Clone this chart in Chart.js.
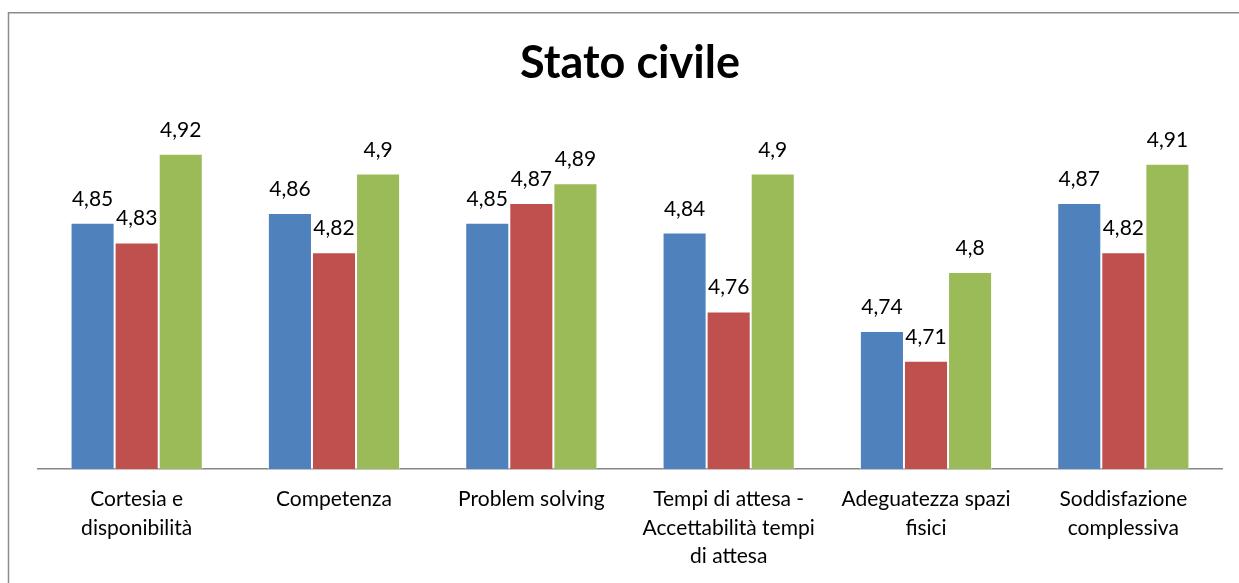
<!DOCTYPE html>
<html lang="it">
<head>
<meta charset="utf-8">
<title>Stato civile</title>
<script src="https://cdn.jsdelivr.net/npm/chart.js@4/dist/chart.umd.min.js"></script>
<style>
  html, body { margin: 0; padding: 0; background: #ffffff; }
  #wrap { width: 1239px; height: 583px; }
</style>
</head>
<body>
<div id="wrap"><canvas id="chart" width="1239" height="583"></canvas></div>
<script>
// Categorie valutate
const categories = [
  ['Cortesia e', 'disponibilità'],
  ['Competenza'],
  ['Problem solving'],
  ['Tempi di attesa -', 'Accettabilità tempi', 'di attesa'],
  ['Adeguatezza spazi', 'fisici'],
  ['Soddisfazione', 'complessiva']
];

// Punteggi medi per gruppo di stato civile
const serieBlu = [4.85, 4.86, 4.85, 4.84, 4.74, 4.87];
const serieRossa = [4.83, 4.82, 4.87, 4.76, 4.71, 4.82];
const serieVerde = [4.92, 4.90, 4.89, 4.90, 4.80, 4.91];

const titolo = 'Stato civile';
const FONT = 'Lato, "Open Sans", sans-serif';

// Cornice grigia del grafico
const framePlugin = {
  id: 'frame',
  beforeDraw(chart) {
    const ctx = chart.ctx;
    ctx.save();
    ctx.fillStyle = '#ffffff';
    ctx.fillRect(0, 0, chart.width, chart.height);
    ctx.strokeStyle = '#8c8c8c';
    ctx.lineWidth = 1.5;
    ctx.strokeRect(8.5, 12.75, chart.width + 20, chart.height + 20);
    ctx.restore();
  }
};

// Titolo centrato sopra l'area del grafico
const titlePlugin = {
  id: 'titolo',
  afterDraw(chart) {
    const ctx = chart.ctx;
    const area = chart.chartArea;
    ctx.save();
    ctx.font = 'bold 45px ' + FONT;
    ctx.fillStyle = '#000000';
    ctx.textAlign = 'center';
    ctx.textBaseline = 'alphabetic';
    ctx.fillText(titolo, (area.left + area.right) / 2, 78);
    ctx.restore();
  }
};

// Etichette con il valore sopra ogni barra (virgola decimale)
const valueLabels = {
  id: 'valori',
  afterDatasetsDraw(chart) {
    const ctx = chart.ctx;
    ctx.save();
    ctx.font = '21px ' + FONT;
    ctx.fillStyle = '#000000';
    ctx.textAlign = 'center';
    ctx.textBaseline = 'alphabetic';
    chart.data.datasets.forEach((ds, i) => {
      const meta = chart.getDatasetMeta(i);
      meta.data.forEach((bar, j) => {
        const txt = String(ds.data[j]).replace('.', ',');
        ctx.fillText(txt, bar.x, bar.y - 17);
      });
    });
    ctx.restore();
  }
};

new Chart(document.getElementById('chart'), {
  type: 'bar',
  data: {
    labels: categories,
    datasets: [
      { label: 'Serie 1', data: serieBlu, backgroundColor: '#4f81bd' },
      { label: 'Serie 2', data: serieRossa, backgroundColor: '#c0504d' },
      { label: 'Serie 3', data: serieVerde, backgroundColor: '#9bbb59' }
    ].map(d => Object.assign(d, {
      borderColor: 'rgba(255,255,255,0.55)',
      borderWidth: 1,
      barPercentage: 1.0,
      categoryPercentage: 0.67
    }))
  },
  options: {
    responsive: false,
    animation: false,
    devicePixelRatio: 1,
    layout: { padding: { left: 38, right: 17, top: 75, bottom: 0 } },
    plugins: {
      legend: { display: false },
      title: { display: false },
      tooltip: { enabled: false }
    },
    scales: {
      x: {
        grid: { display: false, drawTicks: false },
        border: { display: true, color: '#868686', width: 1.5 },
        ticks: {
          color: '#000000',
          font: { family: FONT, size: 21, lineHeight: 1.36 },
          padding: 16,
          maxRotation: 0,
          minRotation: 0,
          autoSkip: false
        },
        afterFit(scale) { scale.height = 114; }
      },
      y: {
        display: false,
        min: 4.6,
        max: 5.0
      }
    }
  },
  plugins: [framePlugin, titlePlugin, valueLabels]
});
</script>
</body>
</html>
